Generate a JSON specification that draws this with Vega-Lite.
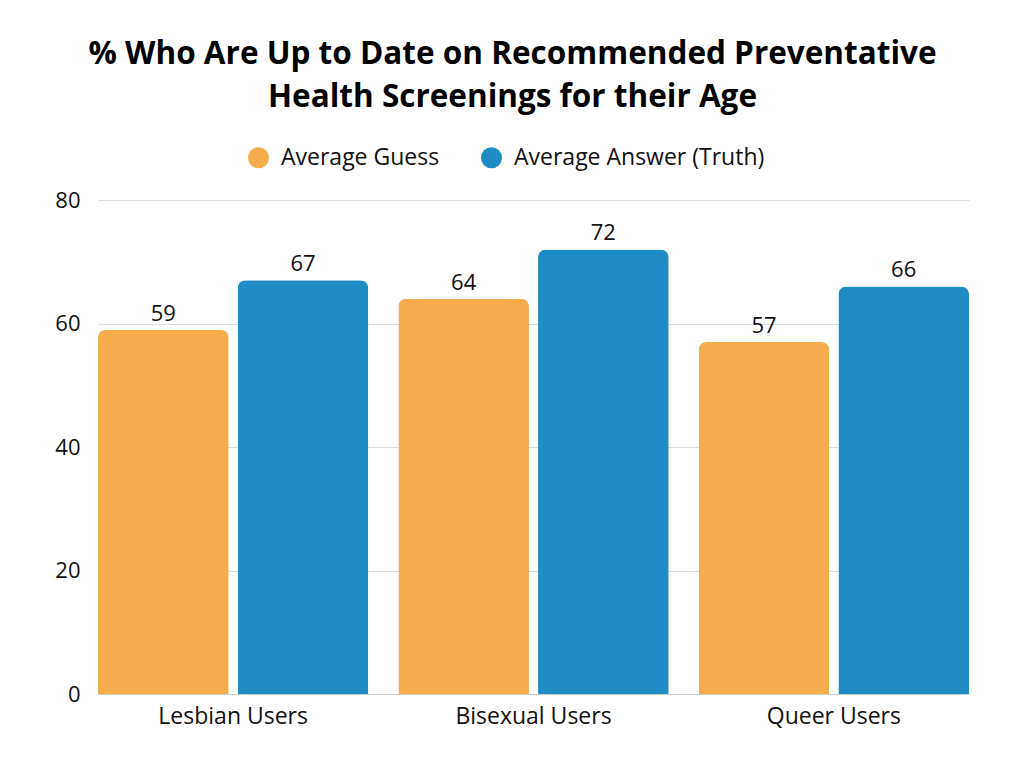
{
  "$schema": "https://vega.github.io/schema/vega-lite/v6.json",
  "autosize": {"type": "none"},
  "width": 871,
  "height": 494,
  "padding": {"left": 98, "top": 200, "right": 55, "bottom": 74},
  "background": "white",
  "config": {
    "view": {"stroke": null},
    "font": "Open Sans"
  },
  "title": {
    "text": ["% Who Are Up to Date on Recommended Preventative", "Health Screenings for their Age"],
    "anchor": "middle",
    "dx": -21,
    "fontSize": 31.5,
    "fontWeight": "bold",
    "font": "Open Sans",
    "color": "#000000",
    "lineHeight": 43,
    "offset": 33
  },
  "data": {
    "values": [
      {"group": "Lesbian Users", "series": "Average Guess", "value": 59},
      {"group": "Lesbian Users", "series": "Average Answer (Truth)", "value": 67},
      {"group": "Bisexual Users", "series": "Average Guess", "value": 64},
      {"group": "Bisexual Users", "series": "Average Answer (Truth)", "value": 72},
      {"group": "Queer Users", "series": "Average Guess", "value": 57},
      {"group": "Queer Users", "series": "Average Answer (Truth)", "value": 66}
    ]
  },
  "encoding": {
    "x": {
      "field": "group", "type": "nominal", "sort": ["Lesbian Users", "Bisexual Users", "Queer Users"],
      "scale": {"paddingInner": 0.1, "paddingOuter": 0},
      "axis": {"title": null, "labelAngle": 0, "labelFontSize": 23, "labelColor": "#111", "labelPadding": 11, "ticks": false, "domain": true, "domainColor": "#cccccc", "labelFont": "Open Sans"}
    },
    "xOffset": {
      "field": "series", "type": "nominal", "sort": ["Average Guess", "Average Answer (Truth)"],
      "scale": {"paddingInner": 0.065, "paddingOuter": 0}
    },
    "y": {
      "field": "value", "type": "quantitative",
      "scale": {"domain": [0, 80]},
      "axis": {"title": null, "values": [0, 20, 40, 60, 80], "labelFontSize": 22, "labelColor": "#111", "labelPadding": 18, "ticks": false, "domain": false, "gridColor": "#dddddd", "gridWidth": 1, "labelFont": "Open Sans"}
    }
  },
  "layer": [
    {
      "mark": {"type": "bar", "cornerRadiusTopLeft": 8, "cornerRadiusTopRight": 8},
      "encoding": {
        "color": {
          "field": "series", "type": "nominal", "sort": ["Average Guess", "Average Answer (Truth)"],
          "scale": {"domain": ["Average Guess", "Average Answer (Truth)"], "range": ["#F6AD4D", "#208CC4"]},
          "legend": {
            "title": null, "orient": "none", "direction": "horizontal",
            "legendX": 149, "legendY": -54,
            "symbolType": "circle", "symbolSize": 440, "symbolStrokeWidth": 0,
            "labelFontSize": 23, "labelColor": "#111", "labelFont": "Open Sans", "labelLimit": 400,
            "columnPadding": 40, "labelOffset": 11
          }
        }
      }
    },
    {
      "mark": {"type": "text", "baseline": "bottom", "dy": -4, "fontSize": 22, "color": "#111", "font": "Open Sans"},
      "encoding": {"text": {"field": "value", "type": "quantitative"}}
    }
  ]
}
